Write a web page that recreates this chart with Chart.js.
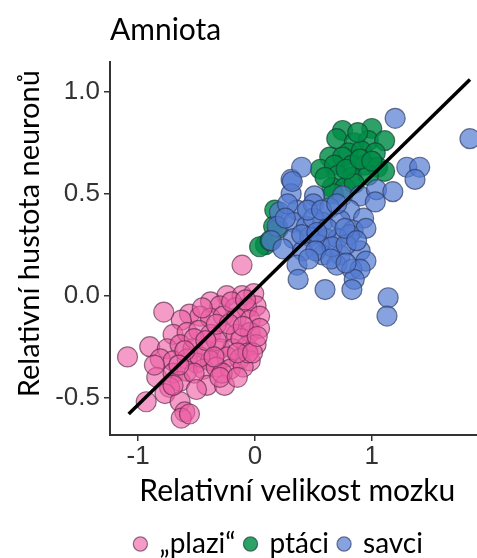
<!DOCTYPE html>
<html><head><meta charset="utf-8">
<script src="https://cdn.jsdelivr.net/npm/chart.js@4"></script>
<style>html,body{margin:0;padding:0;background:#fff;overflow:hidden}</style>
</head><body>
<canvas id="c" width="477" height="558"></canvas>
<script>
const titleText = 'Amniota';
const xTitle = 'Relativní velikost mozku';
const yTitle = 'Relativní hustota neuronů';
const seriesNames = ['„plazi“', 'ptáci', 'savci'];

const plaziX = [-0.24,-0.11,-0.01,0.01,-0.38,-0.30,-0.17,-0.07,-0.56,-0.47,-0.38,-0.27,-0.16,-0.04,0.04,-0.63,-0.70,-0.58,-0.48,-0.38,-0.27,-0.16,-0.04,0.04,-0.90,-0.75,-0.64,-0.53,-0.41,-0.30,-0.19,-0.07,0.01,-0.81,-0.70,-0.58,-0.50,-0.38,-0.24,-0.13,-0.04,-0.84,-0.70,-0.58,-0.44,-0.33,-0.21,-0.10,-0.41,-0.26,-0.64,-0.73,-0.77,-0.93,-0.64,-0.60,-0.63,-0.56,-0.11,-0.78,-1.09,-0.20,-0.45,-0.12,-0.33,-0.52,-0.06,-0.47,-0.28,-0.33,-0.22,-0.10,-0.42,-0.60,-0.15,-0.35,-0.52,-0.65,-0.30,-0.15,-0.02,0.02,-0.08,-0.50,-0.86,-0.70];
const plaziY = [0.00,0.00,0.01,-0.05,-0.03,-0.05,-0.06,-0.06,-0.09,-0.10,-0.11,-0.10,-0.11,-0.12,-0.10,-0.12,-0.19,-0.18,-0.17,-0.19,-0.18,-0.19,-0.18,-0.16,-0.25,-0.26,-0.24,-0.26,-0.27,-0.26,-0.26,-0.25,-0.24,-0.31,-0.32,-0.31,-0.33,-0.32,-0.30,-0.31,-0.32,-0.40,-0.38,-0.37,-0.36,-0.35,-0.36,-0.35,-0.44,-0.44,-0.42,-0.45,-0.48,-0.52,-0.52,-0.57,-0.60,-0.58,0.15,-0.08,-0.30,-0.03,-0.06,-0.21,-0.22,-0.21,-0.28,-0.30,-0.38,-0.14,-0.14,-0.15,-0.22,-0.27,-0.28,-0.30,-0.38,-0.34,-0.40,-0.40,-0.28,-0.20,-0.02,-0.46,-0.34,-0.44];

const ptaciX = [0.75,1.00,0.70,0.85,0.97,1.11,0.80,0.91,1.03,0.64,0.75,0.56,0.68,0.83,0.94,1.05,1.11,0.71,0.83,0.97,0.66,0.77,0.85,0.67,0.17,0.16,0.09,0.20,0.04,0.88,0.78,0.90,1.00,0.60,0.13];
const ptaciY = [0.81,0.82,0.77,0.75,0.76,0.76,0.70,0.71,0.70,0.68,0.68,0.62,0.64,0.64,0.64,0.63,0.61,0.59,0.58,0.59,0.53,0.53,0.55,0.50,0.42,0.34,0.25,0.33,0.24,0.80,0.62,0.67,0.66,0.58,0.27];

const savciX = [0.31,0.51,0.31,0.75,0.90,1.04,1.18,0.21,0.36,0.50,0.64,0.81,0.93,1.03,0.19,0.33,0.44,0.58,0.73,0.84,0.95,0.14,0.33,0.47,0.61,0.71,0.81,0.24,0.41,0.58,0.73,0.90,0.95,0.36,0.70,0.83,0.90,0.37,0.85,0.83,0.60,1.14,1.13,1.20,1.84,1.30,1.41,1.37,0.40,0.32,0.50,0.62,0.55,0.66,0.45,0.28,0.78,0.26,0.40,0.53,0.77,0.52,0.65,0.46,0.78,0.57,0.70,0.87];
const savciY = [0.57,0.49,0.50,0.49,0.49,0.52,0.51,0.41,0.42,0.45,0.43,0.42,0.38,0.46,0.34,0.36,0.34,0.36,0.37,0.32,0.33,0.27,0.28,0.29,0.28,0.28,0.30,0.23,0.22,0.20,0.20,0.22,0.17,0.15,0.15,0.13,0.13,0.08,0.08,0.03,0.03,-0.01,-0.10,0.87,0.77,0.63,0.63,0.57,0.63,0.56,0.38,0.33,0.25,0.24,0.42,0.45,0.25,0.38,0.30,0.31,0.33,0.22,0.18,0.18,0.16,0.42,0.45,0.27];

const fitX = [-1.08, 1.84];
const fitY = [-0.58, 1.06];

const xTicks = [-1, 0, 1];
const xTickLabels = ['-1', '0', '1'];
const yTicks = [-0.5, 0, 0.5, 1.0];
const yTickLabels = ['-0.5', '0.0', '0.5', '1.0'];

const pts = (xs, ys) => xs.map((x, i) => ({x, y: ys[i]}));
const textFont = 'Lato';
const tickFont = 'Liberation Sans';

new Chart(document.getElementById('c'), {
  type: 'scatter',
  data: {
    datasets: [
      {label: seriesNames[0], data: pts(plaziX, plaziY), backgroundColor: 'rgba(238,95,165,0.62)', borderColor: 'rgba(90,40,70,0.65)', borderWidth: 1.2, pointRadius: 10, order: 3},
      {label: seriesNames[1], data: pts(ptaciX, ptaciY), backgroundColor: 'rgba(0,140,72,0.82)', borderColor: 'rgba(15,65,45,0.7)', borderWidth: 1.2, pointRadius: 10, order: 2},
      {label: seriesNames[2], data: pts(savciX, savciY), backgroundColor: 'rgba(82,122,210,0.7)', borderColor: 'rgba(45,60,100,0.7)', borderWidth: 1.2, pointRadius: 10, order: 1},
      {type: 'line', label: 'fit', data: pts(fitX, fitY), borderColor: '#000', borderWidth: 3.5, pointRadius: 0, fill: false, order: 0}
    ]
  },
  options: {
    responsive: false,
    animation: false,
    layout: {autoPadding: false, padding: {left: 0, right: 0, top: 0, bottom: -10}},
    plugins: {
      tooltip: {enabled: false},
      title: {display: true, text: titleText, align: 'start', fullSize: false, color: '#000',
              font: {family: textFont, size: 30, weight: 'normal'}, padding: {top: 12, bottom: 14}},
      legend: {position: 'bottom', fullSize: false,
        labels: {usePointStyle: true, pointStyle: 'circle', boxHeight: 10, boxWidth: 10, padding: 10,
                 color: '#000', font: {family: textFont, size: 28},
                 sort: (a, b) => a.datasetIndex - b.datasetIndex,
                 filter: (item) => item.datasetIndex < 3,
                 generateLabels: (chart) => {
                   const items = Chart.defaults.plugins.legend.labels.generateLabels(chart);
                   items.forEach(it => { if (it.datasetIndex === 2) it.text = it.text + '    '; });
                   return items;
                 }}}
    },
    scales: {
      x: {type: 'linear', min: -1.24, max: 1.90,
        afterBuildTicks: (s) => { s.ticks = xTicks.map(v => ({value: v})); },
        afterFit: (s) => { s.height = 85; s.paddingLeft = 0; s.paddingRight = 0; },
        ticks: {color: '#333', font: {family: tickFont, size: 26}, padding: 0,
                callback: (v) => xTickLabels[xTicks.indexOf(v)]},
        grid: {display: true, drawOnChartArea: false, drawTicks: true, tickLength: 6, color: '#333', lineWidth: 1.5},
        border: {display: true, color: '#333', width: 2},
        title: {display: true, text: ' ' + xTitle, color: '#000', font: {family: textFont, size: 30}, padding: {top: 0, bottom: 11}}
      },
      y: {type: 'linear', min: -0.683, max: 1.146,
        afterBuildTicks: (s) => { s.ticks = yTicks.map(v => ({value: v})); },
        afterFit: (s) => { s.width = 110; },
        ticks: {color: '#333', font: {family: tickFont, size: 26}, padding: 4,
                callback: (v) => yTickLabels[yTicks.indexOf(v)]},
        grid: {display: true, drawOnChartArea: false, drawTicks: true, tickLength: 6, color: '#333', lineWidth: 1.5},
        border: {display: true, color: '#333', width: 2},
        title: {display: true, text: '    ' + yTitle, color: '#000', font: {family: textFont, size: 29}, padding: {top: 12, bottom: 0}}
      }
    }
  }
});
</script>
</body></html>
